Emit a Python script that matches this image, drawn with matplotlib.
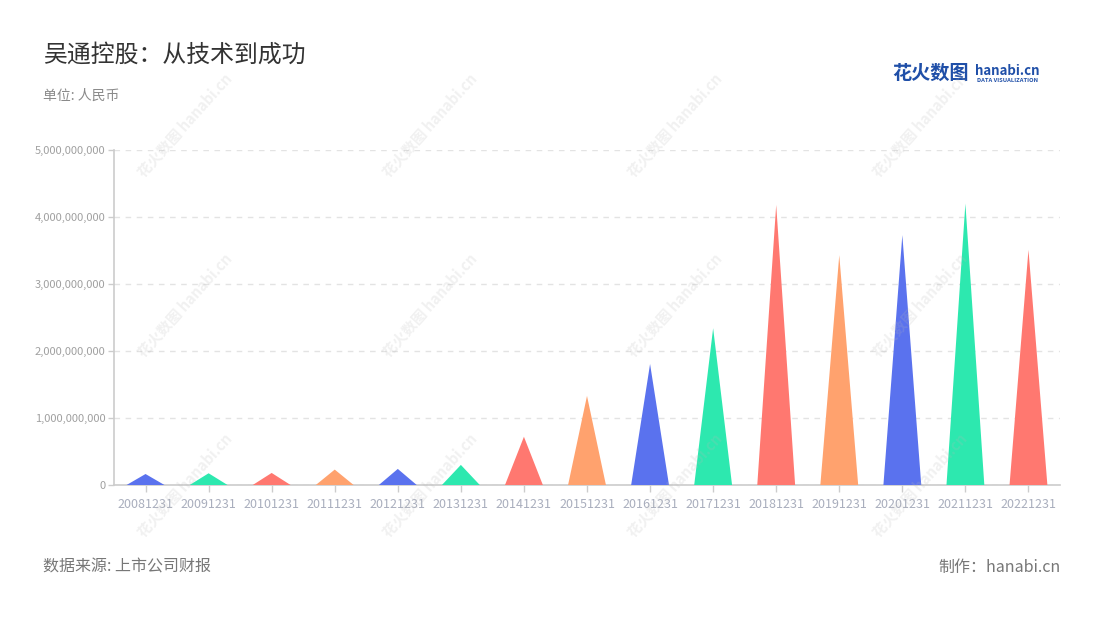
import matplotlib
matplotlib.use("Agg")
import matplotlib.pyplot as plt
from matplotlib.patches import Polygon
from matplotlib.ticker import FuncFormatter
import numpy as np

plt.rcParams["font.family"] = ["Noto Sans CJK SC", "DejaVu Sans"]

# ── data ────────────────────────────────────────────────────────────────────
periods = ["20081231", "20091231", "20101231", "20111231", "20121231",
           "20131231", "20141231", "20151231", "20161231", "20171231",
           "20181231", "20191231", "20201231", "20211231", "20221231"]
values = [0.164e9, 0.175e9, 0.180e9, 0.230e9, 0.240e9,
          0.300e9, 0.720e9, 1.330e9, 1.806e9, 2.340e9,
          4.180e9, 3.430e9, 3.730e9, 4.200e9, 3.510e9]
palette = ["#5A72EE", "#2DE8AF", "#FF7870", "#FFA26E"]

# ── figure ──────────────────────────────────────────────────────────────────
fig = plt.figure(figsize=(11, 6.2), dpi=100)
ax = fig.add_axes([114 / 1100, 1 - 485 / 620, 946 / 1100, 335 / 620])

half = 0.3
for i, v in enumerate(values):
    tri = Polygon([(i - half, 0), (i, v), (i + half, 0)], closed=True,
                  facecolor=palette[i % 4], edgecolor="none", zorder=3)
    ax.add_patch(tri)

ax.set_xlim(-0.5, len(periods) - 0.5)
ax.set_ylim(0, 5e9)
ax.set_xticks(range(len(periods)))
ax.set_xticklabels(periods, fontsize=9, color="#A9AEBD")
ax.set_yticks(np.arange(0, 5.01e9, 1e9))
ax.yaxis.set_major_formatter(FuncFormatter(lambda v, p: f"{int(round(v)):,}"))
ax.tick_params(axis="y", labelsize=8, labelcolor="#A0A0A0", color="#CCCCCC",
               length=4, width=1, pad=2)
ax.tick_params(axis="x", color="#CCCCCC", length=5, width=1, pad=4)

for s in ["top", "right"]:
    ax.spines[s].set_visible(False)
for s in ["left", "bottom"]:
    ax.spines[s].set_color("#CCCCCC")
    ax.spines[s].set_linewidth(1.2)
ax.grid(axis="y", color="#E3E3E3", linestyle=(0, (4, 4)), linewidth=1)
ax.set_axisbelow(True)

# ── watermarks ──────────────────────────────────────────────────────────────
for cy in [125, 305, 485]:
    for cx in [185, 430, 675, 920]:
        fig.text(cx / 1100, 1 - cy / 620, "花火数图 hanabi.cn", rotation=48,
                 ha="center", va="center", fontsize=10.5, fontweight="bold",
                 color="#B8B8B8", alpha=0.2, zorder=10)

# ── texts ───────────────────────────────────────────────────────────────────
fig.text(43 / 1100, 1 - 55 / 620, "吴通控股：从技术到成功", fontsize=17.2,
         color="#333333", va="center", ha="left")
fig.text(43 / 1100, 1 - 96 / 620, "单位: 人民币", fontsize=10,
         color="#8A8A8A", va="center", ha="left")
fig.text(43 / 1100, 1 - 567 / 620, "数据来源: 上市公司财报", fontsize=11.5,
         color="#777777", va="center", ha="left")
fig.text(1061 / 1100, 1 - 567 / 620, "制作：hanabi.cn", fontsize=11.5,
         color="#777777", va="center", ha="right")

# logo
fig.text(892 / 1100, 1 - 73 / 620, "花火数图", fontsize=13.8, fontweight="bold",
         color="#1F4FA8", va="center", ha="left")
fig.text(975 / 1100, 1 - 71 / 620, "hanabi.cn", fontsize=9.5, fontweight="bold",
         color="#1F4FA8", va="center", ha="left")
fig.text(977 / 1100, 1 - 80 / 620, "DATA VISUALIZATION", fontsize=4.2,
         fontweight="bold", color="#1F4FA8", va="center", ha="left")

fig.savefig("out.png", dpi=100)
